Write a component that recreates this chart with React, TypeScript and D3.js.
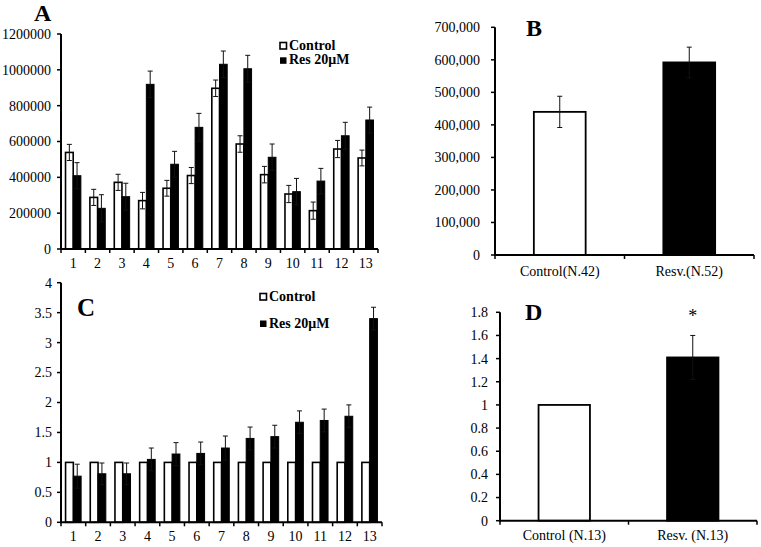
import React from "react";
import * as d3 from "d3";

// ---------- DATA ----------
const categoriesA = ["1", "2", "3", "4", "5", "6", "7", "8", "9", "10", "11", "12", "13"];
const controlA = [539000, 288000, 372000, 270000, 339000, 410000, 897000, 586000, 415000, 307000, 214000, 558000, 508000];
const controlAErr = [45000, 45000, 45000, 46000, 44000, 45000, 46000, 46000, 46000, 48000, 48000, 48000, 44000];
const resA = [409000, 227000, 292000, 919000, 473000, 679000, 1031000, 1006000, 512000, 320000, 379000, 632000, 720000];
const resAErr = [73000, 76000, 75000, 74000, 72000, 78000, 74000, 75000, 74000, 74000, 71000, 75000, 72000];
const ticksA = [0, 200000, 400000, 600000, 800000, 1000000, 1200000];
const tickLabelsA = ["0", "200000", "400000", "600000", "800000", "1000000", "1200000"];

const categoriesB = ["Control(N.42)", "Resv.(N.52)"];
const valuesB = [440000, 592000];
const errB = [48000, 47000];
const ticksB = [0, 100000, 200000, 300000, 400000, 500000, 600000, 700000];
const tickLabelsB = ["0", "100,000", "200,000", "300,000", "400,000", "500,000", "600,000", "700,000"];

const categoriesC = ["1", "2", "3", "4", "5", "6", "7", "8", "9", "10", "11", "12", "13"];
const controlC = [1, 1, 1, 1, 1, 1, 1, 1, 1, 1, 1, 1, 1];
const controlCErr = [0, 0, 0, 0, 0, 0, 0, 0, 0, 0, 0, 0, 0];
const resC = [0.77, 0.81, 0.81, 1.05, 1.14, 1.15, 1.24, 1.4, 1.43, 1.67, 1.7, 1.77, 3.4];
const resCErr = [0.2, 0.18, 0.18, 0.19, 0.19, 0.19, 0.2, 0.19, 0.19, 0.19, 0.19, 0.19, 0.19];
const ticksC = [0, 0.5, 1, 1.5, 2, 2.5, 3, 3.5, 4];
const tickLabelsC = ["0", "0.5", "1", "1.5", "2", "2.5", "3", "3.5", "4"];

const categoriesD = ["Control (N.13)", "Resv. (N.13)"];
const valuesD = [1, 1.41];
const errD = [0, 0.19];
const ticksD = [0, 0.2, 0.4, 0.6, 0.8, 1, 1.2, 1.4, 1.6, 1.8];
const tickLabelsD = ["0", "0.2", "0.4", "0.6", "0.8", "1", "1.2", "1.4", "1.6", "1.8"];

const seriesNames = ["Control", "Res 20μM"];

// ---------- STYLE ----------
const FONT = "Liberation Serif";

type Layout = { x0: number; x1: number; yBase: number; yTop: number; gap: number };

function Axes({
  layout, y, ticks, labels, cats, x, catFont, catDy, tickDown,
}: {
  layout: Layout; y: d3.ScaleLinear<number, number>; ticks: number[]; labels: string[];
  cats: string[]; x: d3.ScaleBand<string>; catFont: number; catDy: number; tickDown: number[];
}) {
  const { x0, x1, yBase, yTop, gap } = layout;
  return (
    <g>
      <line x1={x0} x2={x0} y1={yBase + 1} y2={yTop} stroke="#000" strokeWidth={2} />
      <line x1={x0 - 1} x2={x1} y1={yBase} y2={yBase} stroke="#000" strokeWidth={2} />
      {ticks.map((t, i) => (
        <g key={"yt" + i}>
          <line x1={x0 - 4} x2={x0} y1={y(t)} y2={y(t)} stroke="#000" strokeWidth={1.5} />
          <text x={x0 - gap} y={y(t)} dy="0.35em" textAnchor="end" fontFamily={FONT} fontSize={14} fill="#000">
            {labels[i]}
          </text>
        </g>
      ))}
      {tickDown.map((tx, i) => (
        <line key={"xt" + i} x1={tx} x2={tx} y1={yBase} y2={yBase + 4} stroke="#000" strokeWidth={1.5} />
      ))}
      {cats.map((c) => (
        <text key={"xl" + c} x={(x(c) as number) + x.bandwidth() / 2} y={yBase + catDy} textAnchor="middle"
          fontFamily={FONT} fontSize={catFont} fill="#000">
          {c}
        </text>
      ))}
    </g>
  );
}

function ErrBar({ cx, y, v, e }: { cx: number; y: d3.ScaleLinear<number, number>; v: number; e: number }) {
  if (!e) return null;
  const top = y(v + e);
  const bot = y(v - e);
  return (
    <g stroke="#111" strokeWidth={1}>
      <line x1={cx} x2={cx} y1={top} y2={bot} />
      <line x1={cx - 2.5} x2={cx + 2.5} y1={top} y2={top} />
      <line x1={cx - 2.5} x2={cx + 2.5} y1={bot} y2={bot} />
    </g>
  );
}

function GroupedPanel({
  layout, cats, ctrl, ctrlErr, res, resErr, maxY, ticks, labels,
}: {
  layout: Layout; cats: string[]; ctrl: number[]; ctrlErr: number[]; res: number[]; resErr: number[];
  maxY: number; ticks: number[]; labels: string[];
}) {
  const x = d3.scaleBand<string>().domain(cats).range([layout.x0, layout.x1]).padding(0);
  const y = d3.scaleLinear().domain([0, maxY]).range([layout.yBase, layout.yTop]);
  const inner = d3.scaleBand<string>().domain(["c", "r"]).range([0, x.bandwidth() * 0.63]).padding(0);
  const off = (x.bandwidth() - x.bandwidth() * 0.63) / 2;
  const bw = inner.bandwidth();
  const boundaries = cats.map((c) => x(c) as number).concat([layout.x1]);
  return (
    <g>
      {cats.map((c, i) => {
        const gx = (x(c) as number) + off;
        const cx = gx + (inner("c") as number);
        const rx = gx + (inner("r") as number);
        return (
          <g key={c}>
            <rect x={cx} y={y(ctrl[i])} width={bw} height={y(0) - y(ctrl[i])} fill="#fff" stroke="#000" strokeWidth={1.6} />
            <ErrBar cx={cx + bw / 2} y={y} v={ctrl[i]} e={ctrlErr[i]} />
            <rect x={rx} y={y(res[i])} width={bw} height={y(0) - y(res[i])} fill="#000" stroke="#000" strokeWidth={1} />
            <ErrBar cx={rx + bw / 2} y={y} v={res[i]} e={resErr[i]} />
          </g>
        );
      })}
      <Axes layout={layout} y={y} ticks={ticks} labels={labels} cats={cats} x={x} catFont={14} catDy={19} tickDown={boundaries} />
    </g>
  );
}

function PairPanel({
  layout, cats, vals, errs, maxY, ticks, labels, catDy,
}: {
  layout: Layout; cats: string[]; vals: number[]; errs: number[]; maxY: number; ticks: number[]; labels: string[]; catDy: number;
}) {
  const x = d3.scaleBand<string>().domain(cats).range([layout.x0, layout.x1]).padding(0);
  const y = d3.scaleLinear().domain([0, maxY]).range([layout.yBase, layout.yTop]);
  const bw = x.bandwidth() * 0.4;
  const fills = ["#fff", "#000"];
  const boundaries = cats.map((c) => x(c) as number).concat([layout.x1]);
  return (
    <g>
      {cats.map((c, i) => {
        const bx = (x(c) as number) + (x.bandwidth() - bw) / 2;
        return (
          <g key={c}>
            <rect x={bx} y={y(vals[i])} width={bw} height={y(0) - y(vals[i])} fill={fills[i]} stroke="#000" strokeWidth={1.8} />
            <ErrBar cx={bx + bw / 2} y={y} v={vals[i]} e={errs[i]} />
          </g>
        );
      })}
      <Axes layout={layout} y={y} ticks={ticks} labels={labels} cats={cats} x={x} catFont={14} catDy={catDy} tickDown={boundaries} />
    </g>
  );
}

function Legend({ x, y1, y2 }: { x: number; y1: number; y2: number }) {
  return (
    <g fontFamily={FONT} fontWeight="bold" fontSize={14}>
      <rect x={x} y={y1 - 7.5} width={6.5} height={6.5} fill="#fff" stroke="#000" strokeWidth={1.6} />
      <text x={x + 9} y={y1}>{seriesNames[0]}</text>
      <rect x={x} y={y2 - 7} width={6.5} height={6.5} fill="#000" />
      <text x={x + 9} y={y2}>{seriesNames[1]}</text>
    </g>
  );
}

export default function App() {
  const LA: Layout = { x0: 61, x1: 378, yBase: 249, yTop: 34, gap: 10 };
  const LB: Layout = { x0: 495, x1: 754, yBase: 255, yTop: 27.3, gap: 15 };
  const LC: Layout = { x0: 61, x1: 382, yBase: 522.3, yTop: 282.7, gap: 9 };
  const LD: Layout = { x0: 500, x1: 757, yBase: 520.7, yTop: 312.3, gap: 12 };
  const yD = d3.scaleLinear().domain([0, 1.8]).range([LD.yBase, LD.yTop]);
  const xD = d3.scaleBand<string>().domain(categoriesD).range([LD.x0, LD.x1]);
  return (
    <svg width={761} height={547} style={{ position: "absolute", left: 0, top: 0, background: "#fff" }}>
      <rect width={761} height={547} fill="#fff" />
      <GroupedPanel layout={LA} cats={categoriesA} ctrl={controlA} ctrlErr={controlAErr} res={resA} resErr={resAErr}
        maxY={1200000} ticks={ticksA} labels={tickLabelsA} />
      <PairPanel layout={LB} cats={categoriesB} vals={valuesB} errs={errB} maxY={700000} ticks={ticksB} labels={tickLabelsB} catDy={21} />
      <GroupedPanel layout={LC} cats={categoriesC} ctrl={controlC} ctrlErr={controlCErr} res={resC} resErr={resCErr}
        maxY={4} ticks={ticksC} labels={tickLabelsC} />
      <PairPanel layout={LD} cats={categoriesD} vals={valuesD} errs={errD} maxY={1.8} ticks={ticksD} labels={tickLabelsD} catDy={19} />
      <Legend x={280} y1={50} y2={64.3} />
      <Legend x={260} y1={301} y2={327.5} />
      <g fontFamily={FONT} fontWeight="bold" fill="#000">
        <text x={34} y={21} fontSize={24}>A</text>
        <text x={526} y={36} fontSize={24}>B</text>
        <text x={77} y={316} fontSize={25}>C</text>
        <text x={525} y={319.5} fontSize={24}>D</text>
      </g>
      <text x={(xD(categoriesD[1]) as number) + xD.bandwidth() / 2} y={yD(1.8) + 10} textAnchor="middle"
        fontFamily={FONT} fontSize={18} fill="#000">*</text>
    </svg>
  );
}
